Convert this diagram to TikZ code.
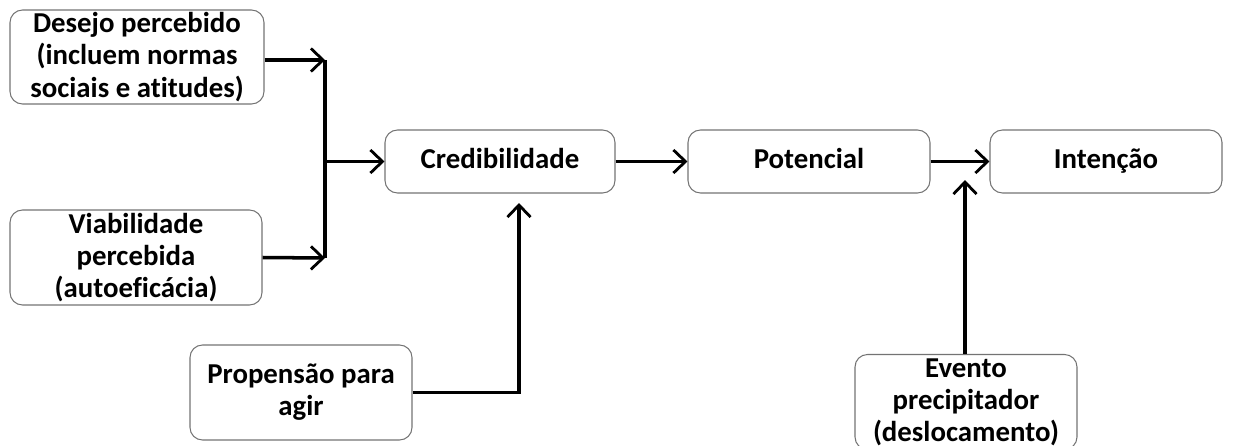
\documentclass[tikz,border=0pt]{standalone}
\usepackage{fontspec}
\setmainfont{Carlito}[Ligatures={NoCommon}]
\usetikzlibrary{arrows.meta}

\tikzset{
  caixa/.style={draw=black!55, line width=0.6pt, rounded corners=0.25cm,
    align=center, inner sep=0pt,
    font=\bfseries\fontsize{16.4}{18.3}\selectfont},
  caixaum/.style={caixa, minimum height=1.26cm, text height=2.2ex, text depth=0.6ex},
  seta/.style={line width=2pt, -{Straight Barb[length=2.4mm,width=4.6mm,line width=1.6pt]}},
  linha/.style={line width=2pt}
}

\begin{document}
\begin{tikzpicture}
  \useasboundingbox (0,0) rectangle (24.68,-8.92);

  \node[caixa, minimum width=5.08cm, minimum height=1.88cm] (desejo) at (2.74,-1.14)
    {Desejo percebido\\(incluem normas\\sociais e atitudes)};
  \node[caixa, minimum width=5.04cm, minimum height=1.9cm] (viab) at (2.72,-5.15)
    {Viabilidade\\percebida\\(autoeficácia)};
  \node[caixaum, minimum width=4.6cm] (cred) at (10,-3.23) {Credibilidade};
  \node[caixaum, minimum width=4.84cm] (pot) at (16.18,-3.23) {Potencial};
  \node[caixaum, minimum width=4.64cm] (int) at (22.12,-3.23) {Intenção};
  \node[caixa, minimum width=4.44cm, minimum height=1.9cm] (prop) at (6.02,-7.85)
    {Propensão para\\agir};
  \node[caixa, minimum width=4.44cm, minimum height=1.9cm] (evento) at (19.32,-8.04)
    {Evento\\precipitador\\(deslocamento)};

  % juncao das duas percepcoes
  \coordinate (topo) at (6.5,-1.2);
  \coordinate (base) at (6.5,-5.16);
  \coordinate (meio) at (6.5,-3.23);
  \coordinate (pontaP) at (10.38,-4.06);
  \coordinate (pontaE) at (19.3,-3.6);

  \draw[seta] (desejo.east |- topo) -- (topo);
  \draw[seta] (viab.east) -- (base);
  \draw[linha] (topo) -- (base);
  \draw[seta] (meio) -- (cred.west);

  \draw[seta] (cred.east) -- (pot.west);
  \draw[seta] (pot.east) -- (int.west);

  \draw[seta] (prop.east) -| (pontaP);
  \draw[seta] (evento.north -| pontaE) -- (pontaE);
\end{tikzpicture}
\end{document}
